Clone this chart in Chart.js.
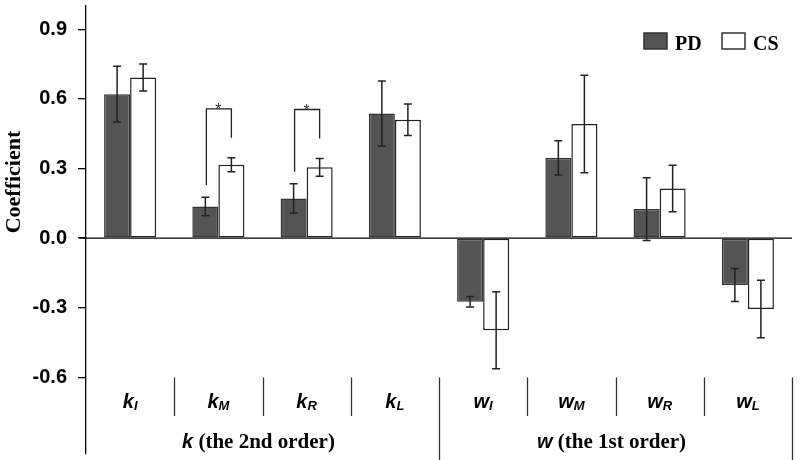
<!DOCTYPE html>
<html>
<head>
<meta charset="utf-8">
<script src="https://cdn.jsdelivr.net/npm/chart.js@4.4.1/dist/chart.umd.min.js"></script>
<style>
body { margin: 0; background: #fff; }
#wrap { width: 800px; height: 460px; }
</style>
</head>
<body>
<div id="wrap"><canvas id="grafico" width="800" height="460"></canvas></div>
<script>
// category labels: letter + subscript
const letters = ['k', 'k', 'k', 'k', 'w', 'w', 'w', 'w'];
const subs = ['I', 'M', 'R', 'L', 'I', 'M', 'R', 'L'];
const groupLetters = ['k', 'w'];
const groupTexts = [' (the 2nd order)', ' (the 1st order)'];

// values
const pd = [0.62, 0.136, 0.171, 0.537, -0.274, 0.346, 0.125, -0.202];
const pdErr = [0.12, 0.04, 0.063, 0.14, 0.023, 0.074, 0.135, 0.071];
const cs = [0.692, 0.316, 0.305, 0.51, -0.397, 0.492, 0.214, -0.305];
const csErr = [0.058, 0.03, 0.038, 0.068, 0.166, 0.21, 0.1, 0.124];

// categories with a significant difference (*)
const sigIndex = [1, 2];

const yTicks = [-0.6, -0.3, 0, 0.3, 0.6, 0.9];

const sans = '"Liberation Sans", Arial, sans-serif';
const serif = '"Liberation Serif", "Times New Roman", serif';

const extras = {
    id: 'extras',
    afterDatasetsDraw(chart) {
        const ctx = chart.ctx;
        const y = chart.scales.y;
        const area = chart.chartArea;
        const y0 = y.getPixelForValue(0);

        ctx.save();
        ctx.strokeStyle = '#000';
        ctx.lineWidth = 1.3;
        ctx.beginPath();
        ctx.moveTo(79, y0);
        ctx.lineTo(area.right, y0);
        ctx.stroke();

        // error bars
        ctx.strokeStyle = '#222';
        ctx.lineWidth = 1.5;
        [pdErr, csErr].forEach((errs, d) => {
            const meta = chart.getDatasetMeta(d);
            const vals = chart.data.datasets[d].data;
            meta.data.forEach((bar, i) => {
                const t = y.getPixelForValue(vals[i] + errs[i]);
                const b = y.getPixelForValue(vals[i] - errs[i]);
                ctx.beginPath();
                ctx.moveTo(bar.x, t); ctx.lineTo(bar.x, b);
                ctx.moveTo(bar.x - 4, t); ctx.lineTo(bar.x + 4, t);
                ctx.moveTo(bar.x - 4, b); ctx.lineTo(bar.x + 4, b);
                ctx.stroke();
            });
        });

        // significance brackets
        ctx.lineWidth = 1.3;
        sigIndex.forEach(i => {
            const a = chart.getDatasetMeta(0).data[i];
            const c = chart.getDatasetMeta(1).data[i];
            const ta = y.getPixelForValue(pd[i] + pdErr[i]);
            const tc = y.getPixelForValue(cs[i] + csErr[i]);
            const top = Math.min(ta, tc) - 49;
            ctx.beginPath();
            ctx.moveTo(a.x + 1, ta - 12);
            ctx.lineTo(a.x + 1, top);
            ctx.lineTo(c.x, top);
            ctx.lineTo(c.x, tc - 20);
            ctx.stroke();
            ctx.fillStyle = '#333';
            ctx.font = '16px ' + sans;
            ctx.textAlign = 'center';
            ctx.textBaseline = 'alphabetic';
            ctx.fillText('*', (a.x + c.x) / 2, top + 6);
        });
        ctx.restore();
    },
    afterDraw(chart) {
        const ctx = chart.ctx;
        const area = chart.chartArea;
        const cw = (area.right - area.left) / letters.length;
        const sepTop = chart.scales.y.getPixelForValue(-0.6);

        ctx.save();
        // separators under the plot
        ctx.strokeStyle = '#333';
        ctx.lineWidth = 1.3;
        for (let i = 1; i <= letters.length; i++) {
            const x = Math.round(area.left + i * cw) + 0.5;
            const long = (i == 4 || i == 8);
            ctx.beginPath();
            ctx.moveTo(x, sepTop);
            ctx.lineTo(x, long ? 460 : 416);
            ctx.stroke();
        }

        // category labels
        ctx.fillStyle = '#000';
        ctx.textBaseline = 'alphabetic';
        ctx.textAlign = 'left';
        for (let i = 0; i < letters.length; i++) {
            const cx = area.left + (i + 0.5) * cw;
            ctx.font = 'italic bold 20px ' + sans;
            const w1 = ctx.measureText(letters[i]).width;
            ctx.font = 'italic bold 13px ' + sans;
            const w2 = ctx.measureText(subs[i]).width;
            const x0 = cx - (w1 + w2) / 2;
            ctx.font = 'italic bold 20px ' + sans;
            ctx.fillText(letters[i], x0, 408);
            ctx.font = 'italic bold 13px ' + sans;
            ctx.fillText(subs[i], x0 + w1, 410);
        }

        // group labels
        for (let g = 0; g < 2; g++) {
            const cx = area.left + (g * 4 + 2) * cw - 4;
            ctx.font = 'italic bold 20px ' + sans;
            const w1 = ctx.measureText(groupLetters[g]).width;
            ctx.font = 'bold 21px ' + serif;
            const w2 = ctx.measureText(groupTexts[g]).width;
            const x0 = cx - (w1 + w2) / 2;
            ctx.font = 'italic bold 20px ' + sans;
            ctx.fillText(groupLetters[g], x0, 448);
            ctx.font = 'bold 21px ' + serif;
            ctx.fillText(groupTexts[g], x0 + w1, 448);
        }

        // y title
        ctx.save();
        ctx.translate(14, 182);
        ctx.rotate(-Math.PI / 2);
        ctx.font = 'bold 22px ' + serif;
        ctx.textAlign = 'center';
        ctx.textBaseline = 'middle';
        ctx.fillText('Coefficient', 0, 0);
        ctx.restore();

        // legend
        const sets = chart.data.datasets;
        const boxX = [644, 722];
        sets.forEach((ds, d) => {
            ctx.fillStyle = ds.backgroundColor;
            ctx.strokeStyle = '#333';
            ctx.lineWidth = 1.5;
            ctx.fillRect(boxX[d], 33, 23, 16);
            ctx.strokeRect(boxX[d], 33, 23, 16);
            ctx.fillStyle = '#000';
            ctx.font = 'bold 20px ' + serif;
            ctx.textAlign = 'left';
            ctx.fillText(ds.label, boxX[d] + 31, 50);
        });
        ctx.restore();
    }
};

const config = {
    type: 'bar',
    data: {
        labels: letters.map((l, i) => l + subs[i]),
        datasets: [{
                label: 'PD',
                data: pd,
                backgroundColor: '#545454',
                borderColor: '#333',
                borderWidth: 1.5,
                borderSkipped: false
            },
            {
                label: 'CS',
                data: cs,
                backgroundColor: '#ffffff',
                borderColor: '#222',
                borderWidth: 1.5,
                borderSkipped: false
            }
        ]
    },
    options: {
        responsive: false,
        animation: false,
        devicePixelRatio: 1,
        layout: { padding: { left: 0, right: 8, top: 6, bottom: 6 } },
        datasets: { bar: { categoryPercentage: 0.59, barPercentage: 1.0 } },
        plugins: { legend: { display: false }, tooltip: { enabled: false } },
        scales: {
            x: { display: false },
            y: {
                min: -0.93,
                max: 1.0,
                afterFit(scale) {
                    scale.width = 86;
                    scale.paddingTop = 0;
                    scale.paddingBottom = 0;
                },
                afterBuildTicks(scale) { scale.ticks = yTicks.map(v => ({ value: v })); },
                grid: { drawOnChartArea: false, drawTicks: true, tickLength: 8, color: '#000', lineWidth: 1.3 },
                border: { display: true, color: '#000', width: 1.3 },
                ticks: {
                    autoSkip: false,
                    padding: 11,
                    color: '#000',
                    font: { family: sans, size: 20, weight: 'bold' },
                    callback: v => v.toFixed(1)
                }
            }
        }
    },
    plugins: [extras]
};

const myChart = new Chart(document.getElementById('grafico'), config);
</script>
</body>
</html>
